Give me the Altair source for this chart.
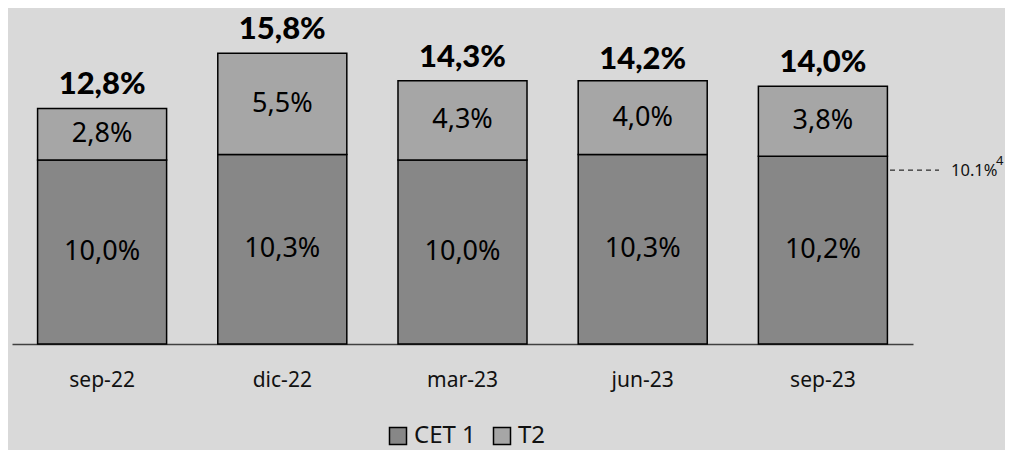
import altair as alt
import pandas as pd

categories = ["sep-22", "dic-22", "mar-23", "jun-23", "sep-23"]
cet1 = [10.0, 10.3, 10.0, 10.3, 10.2]
t2 = [2.8, 5.5, 4.3, 4.0, 3.8]
totals = [12.8, 15.8, 14.3, 14.2, 14.0]
threshold = 10.1
threshold_label = "10.1%"
threshold_note = "4"

def fmt(v):
    return f"{v:.1f}".replace(".", ",") + "%"

rows = []
for c, a, b in zip(categories, cet1, t2):
    rows.append({"cat": c, "serie": "CET 1", "val": a, "ord": 0, "lab": fmt(a), "mid": a / 2})
    rows.append({"cat": c, "serie": "T2", "val": b, "ord": 1, "lab": fmt(b), "mid": a + b / 2})
df = pd.DataFrame(rows)
df_tot = pd.DataFrame({"cat": categories, "tot": totals, "lab": [fmt(v) for v in totals]})

xenc = alt.X("cat:N", sort=categories,
             scale=alt.Scale(paddingInner=0.284, paddingOuter=0.142),
             axis=alt.Axis(title=None, labelAngle=0, ticks=False, domainColor="#404040",
                           domainWidth=1.5, labelFontSize=21, labelColor="#111111",
                           labelFont="Noto Sans", labelPadding=25))
yscale = alt.Scale(domain=[0, 17.93], nice=False)

bars = alt.Chart(df).mark_bar(stroke="black", strokeWidth=1.5).encode(
    x=xenc,
    y=alt.Y("val:Q", stack="zero", scale=yscale, axis=None),
    color=alt.Color("serie:N", scale=alt.Scale(domain=["CET 1", "T2"], range=["#878787", "#a6a6a6"]),
                    legend=alt.Legend(title=None, orient="none", direction="horizontal",
                                      legendX=374, legendY=410, symbolType="square",
                                      symbolSize=289, symbolStrokeColor="black",
                                      symbolStrokeWidth=1.5, labelFontSize=24,
                                      labelFont="Noto Sans", labelColor="#111111",
                                      columnPadding=14, labelOffset=4)),
    order=alt.Order("ord:Q"),
)

inner = alt.Chart(df).mark_text(fontSize=27, font="Noto Sans", color="black", baseline="middle").encode(
    x=alt.X("cat:N", sort=categories),
    y=alt.Y("mid:Q", scale=yscale),
    text="lab:N",
)

tot = alt.Chart(df_tot).mark_text(fontSize=31, font="Lato", fontWeight=900, color="black",
                                  baseline="alphabetic", dy=-14).encode(
    x=alt.X("cat:N", sort=categories),
    y=alt.Y("tot:Q", scale=yscale),
    text="lab:N",
)

thr_df = pd.DataFrame({"v": [threshold], "lab": [threshold_label], "note": [threshold_note]})
dash = alt.Chart(thr_df).mark_rule(strokeDash=[5, 4], color="black", strokeWidth=1, yOffset=12).encode(
    y=alt.Y("v:Q", scale=yscale), x=alt.value(878), x2=alt.value(927))
thr_txt = alt.Chart(thr_df).mark_text(fontSize=16.5, font="Noto Sans", color="#111111",
                                      align="left", baseline="middle", dy=13).encode(
    y=alt.Y("v:Q", scale=yscale), x=alt.value(939), text="lab:N")
thr_note = alt.Chart(thr_df).mark_text(fontSize=13, font="Noto Sans", color="#111111",
                                       align="left", baseline="middle", dy=3).encode(
    y=alt.Y("v:Q", scale=yscale), x=alt.value(984), text="note:N")

chart = alt.layer(bars, inner, tot, dash, thr_txt, thr_note).properties(
    width=901, height=330,
    padding={"left": 4, "top": 6, "right": 92, "bottom": 106},
    autosize=alt.AutoSizeParams(type="none"),
    background="#d9d9d9",
).configure_view(stroke=None)

chart.save("out.html", embed_options={"renderer": "svg", "actions": False})
